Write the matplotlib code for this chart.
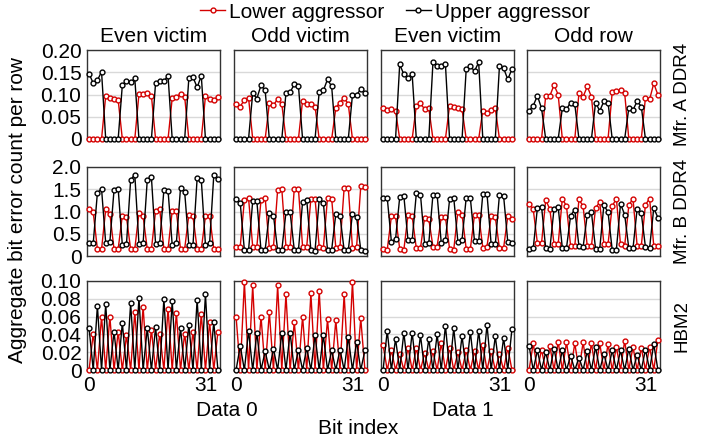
import numpy as np
import matplotlib
matplotlib.use("Agg")
import matplotlib.pyplot as plt
from matplotlib.lines import Line2D

plt.rcParams["font.family"] = ["Liberation Sans", "DejaVu Sans"]
plt.rcParams["font.size"] = 15

bit_index = np.arange(32)

# Mfr. A DDR4
a_d0_even_lower = [0, 0, 0, 0, 0.097, 0.093, 0.091, 0.088, 0, 0, 0, 0, 0.101, 0.101, 0.104, 0.097,
                   0, 0, 0, 0, 0.092, 0.095, 0.101, 0.095, 0, 0, 0, 0, 0.096, 0.091, 0.087, 0.095]
a_d0_even_upper = [0.147, 0.125, 0.132, 0.151, 0, 0, 0, 0, 0.121, 0.130, 0.127, 0.136, 0, 0, 0, 0,
                   0.126, 0.130, 0.130, 0.142, 0, 0, 0, 0, 0.136, 0.139, 0.116, 0.142, 0, 0, 0, 0]
a_d0_odd_lower = [0.078, 0.073, 0.088, 0.093, 0, 0, 0, 0, 0.080, 0.076, 0.090, 0.079, 0, 0, 0, 0,
                  0.086, 0.079, 0.079, 0.073, 0, 0, 0, 0, 0.070, 0.082, 0.093, 0.078, 0, 0, 0, 0]
a_d0_odd_upper = [0, 0, 0, 0, 0.103, 0.091, 0.121, 0.109, 0, 0, 0, 0, 0.103, 0.105, 0.123, 0.120,
                  0, 0, 0, 0, 0.106, 0.109, 0.134, 0.118, 0, 0, 0, 0, 0.099, 0.099, 0.112, 0.103]
a_d1_even_lower = [0.069, 0.065, 0.067, 0.063, 0, 0, 0, 0, 0.075, 0.080, 0.067, 0.070, 0, 0, 0, 0,
                   0.075, 0.073, 0.070, 0.067, 0, 0, 0, 0, 0.064, 0.059, 0.065, 0.069, 0, 0, 0, 0]
a_d1_even_upper = [0, 0, 0, 0, 0.168, 0.145, 0.138, 0.145, 0, 0, 0, 0, 0.172, 0.165, 0.163, 0.168,
                   0, 0, 0, 0, 0.157, 0.163, 0.153, 0.172, 0, 0, 0, 0, 0.164, 0.159, 0.134, 0.157]
a_d1_odd_lower = [0, 0, 0, 0, 0.097, 0.097, 0.121, 0.100, 0, 0, 0, 0, 0.103, 0.095, 0.118, 0.095,
                  0, 0, 0, 0, 0.105, 0.108, 0.109, 0.103, 0, 0, 0, 0, 0.093, 0.089, 0.125, 0.099]
a_d1_odd_upper = [0.063, 0.075, 0.097, 0.069, 0, 0, 0, 0, 0.069, 0.067, 0.082, 0.078, 0, 0, 0, 0,
                  0.082, 0.063, 0.085, 0.082, 0, 0, 0, 0, 0.070, 0.065, 0.085, 0.073, 0, 0, 0, 0]

# Mfr. B DDR4
b_d0_even_lower = [1.05, 0.98, 0.16, 0.15, 1.05, 0.95, 0.16, 0.16, 0.91, 0.87, 0.15, 0.16, 0.97, 0.89, 0.16, 0.15,
                   1.01, 1.05, 0.16, 0.16, 1.01, 1.01, 0.15, 0.16, 0.93, 0.89, 0.16, 0.15, 0.89, 0.91, 0.16, 0.16]
b_d0_even_upper = [0.29, 0.29, 1.42, 1.51, 0.29, 0.31, 1.48, 1.51, 0.25, 0.27, 1.71, 1.83, 0.27, 0.29, 1.71, 1.77,
                   0.27, 0.29, 1.49, 1.47, 0.25, 0.29, 1.53, 1.44, 0.25, 0.25, 1.75, 1.71, 0.25, 0.29, 1.81, 1.72]
b_d0_odd_lower = [0.21, 0.21, 1.26, 1.30, 0.21, 0.21, 1.26, 1.31, 0.18, 0.21, 1.49, 1.51, 0.21, 0.21, 1.51, 1.51,
                  0.21, 0.21, 1.29, 1.29, 0.21, 0.18, 1.31, 1.29, 0.18, 0.21, 1.53, 1.53, 0.18, 0.21, 1.57, 1.55]
b_d0_odd_upper = [1.29, 1.19, 0.13, 0.13, 1.23, 1.23, 0.13, 0.14, 0.96, 0.91, 0.13, 0.13, 0.98, 0.98, 0.14, 0.13,
                  1.21, 1.26, 0.13, 0.12, 1.27, 1.20, 0.13, 0.14, 0.95, 0.91, 0.13, 0.13, 0.95, 0.87, 0.14, 0.12]
b_d1_even_lower = [0.16, 0.14, 0.89, 0.89, 0.16, 0.14, 0.92, 0.89, 0.17, 0.18, 0.86, 0.83, 0.21, 0.21, 0.87, 0.87,
                   0.16, 0.14, 1.00, 0.93, 0.16, 0.16, 0.93, 0.93, 0.18, 0.21, 0.89, 0.87, 0.18, 0.18, 0.89, 0.83]
b_d1_even_upper = [1.30, 1.31, 0.32, 0.38, 1.32, 1.35, 0.35, 0.35, 1.41, 1.38, 0.27, 0.29, 1.38, 1.38, 0.29, 0.35,
                   1.27, 1.31, 0.32, 0.37, 1.31, 1.30, 0.33, 0.33, 1.40, 1.40, 0.27, 0.26, 1.38, 1.35, 0.32, 0.29]
b_d1_odd_lower = [1.17, 1.05, 0.29, 0.29, 1.26, 1.05, 0.27, 0.27, 1.29, 1.12, 0.22, 0.23, 1.27, 1.12, 0.22, 0.22,
                  1.08, 1.21, 0.27, 0.27, 1.12, 1.29, 0.26, 0.23, 1.14, 1.29, 0.23, 0.23, 1.15, 1.29, 0.23, 0.22]
b_d1_odd_upper = [0.16, 0.17, 1.08, 1.11, 0.17, 0.16, 1.06, 1.10, 0.18, 0.18, 0.91, 1.04, 0.22, 0.20, 0.93, 0.98,
                  0.16, 0.16, 1.15, 0.98, 0.14, 0.14, 1.17, 0.93, 0.17, 0.17, 1.06, 0.96, 0.20, 0.18, 1.08, 0.86]

# HBM2
h_d0_even_lower = [0, 0.041, 0, 0.060, 0, 0.060, 0, 0.043, 0, 0.039, 0, 0.065, 0, 0.071, 0, 0.045,
                   0, 0.041, 0, 0.069, 0, 0.064, 0, 0.041, 0, 0.043, 0, 0.063, 0, 0.054, 0, 0.043]
h_d0_even_upper = [0.047, 0, 0.072, 0, 0.074, 0, 0.043, 0, 0.053, 0, 0.075, 0, 0.081, 0, 0.047, 0,
                   0.048, 0, 0.080, 0, 0.077, 0, 0.047, 0, 0.051, 0, 0.079, 0, 0.085, 0, 0.054, 0]
h_d0_odd_lower = [0.060, 0, 0.099, 0, 0.095, 0, 0.060, 0, 0.065, 0, 0.095, 0, 0.085, 0, 0.054, 0,
                  0.060, 0, 0.086, 0, 0.089, 0, 0.057, 0, 0.056, 0, 0.085, 0, 0.099, 0, 0.058, 0]
h_d0_odd_upper = [0, 0.027, 0, 0.044, 0, 0.042, 0, 0.021, 0, 0.024, 0, 0.042, 0, 0.042, 0, 0.023,
                  0, 0.025, 0, 0.039, 0, 0.039, 0, 0.022, 0, 0.023, 0, 0.037, 0, 0.032, 0, 0.022]
h_d1_even_lower = [0.028, 0, 0.022, 0, 0.018, 0, 0.025, 0, 0.025, 0, 0.019, 0, 0.021, 0, 0.030, 0,
                   0.025, 0, 0.020, 0, 0.022, 0, 0.021, 0, 0.028, 0, 0.021, 0, 0.018, 0, 0.025, 0]
h_d1_even_upper = [0, 0.044, 0, 0.035, 0, 0.042, 0, 0.042, 0, 0.039, 0, 0.035, 0, 0.040, 0, 0.050,
                   0, 0.047, 0, 0.038, 0, 0.043, 0, 0.044, 0, 0.051, 0, 0.038, 0, 0.036, 0, 0.046]
h_d1_odd_lower = [0, 0.030, 0, 0.023, 0, 0.027, 0, 0.032, 0, 0.031, 0, 0.030, 0, 0.031, 0, 0.030,
                  0, 0.030, 0, 0.029, 0, 0.026, 0, 0.033, 0, 0.026, 0, 0.025, 0, 0.026, 0, 0.034]
h_d1_odd_upper = [0.027, 0, 0.022, 0, 0.020, 0, 0.024, 0, 0.022, 0, 0.016, 0, 0.014, 0, 0.021, 0,
                  0.026, 0, 0.018, 0, 0.022, 0, 0.022, 0, 0.024, 0, 0.017, 0, 0.023, 0, 0.029, 0]

col_titles = ["Even victim", "Odd victim", "Even victim", "Odd row"]
row_labels = ["Mfr. A DDR4", "Mfr. B DDR4", "HBM2"]
y_ticks = [[0, 0.05, 0.10, 0.15, 0.20], [0, 0.5, 1.0, 1.5, 2.0], [0, 0.02, 0.04, 0.06, 0.08, 0.10]]
y_ticklabels = [["0", "0.05", "0.10", "0.15", "0.20"], ["0", "0.5", "1.0", "1.5", "2.0"],
                ["0", "0.02", "0.04", "0.06", "0.08", "0.10"]]

panels = [
    [(a_d0_even_lower, a_d0_even_upper), (a_d0_odd_lower, a_d0_odd_upper),
     (a_d1_even_lower, a_d1_even_upper), (a_d1_odd_lower, a_d1_odd_upper)],
    [(b_d0_even_lower, b_d0_even_upper), (b_d0_odd_lower, b_d0_odd_upper),
     (b_d1_even_lower, b_d1_even_upper), (b_d1_odd_lower, b_d1_odd_upper)],
    [(h_d0_even_lower, h_d0_even_upper), (h_d0_odd_lower, h_d0_odd_upper),
     (h_d1_even_lower, h_d1_even_upper), (h_d1_odd_lower, h_d1_odd_upper)],
]

red = "#d40000"
W, H = 710, 441
fig = plt.figure(figsize=(7.1, 4.41), dpi=100)

col_left = [87, 234, 381, 527]
row_top = [50, 167, 281]
ax_w, ax_h = 133, 89

for r in range(3):
    for c in range(4):
        ax = fig.add_axes([col_left[c] / W, 1 - (row_top[r] + ax_h) / H, ax_w / W, ax_h / H])
        lower, upper = panels[r][c]
        ax.plot(bit_index, lower, color=red, lw=1, marker="o", ms=3.5, mfc="white",
                mec=red, mew=1, clip_on=False, zorder=3)
        ax.plot(bit_index, upper, color="black", lw=1, marker="o", ms=3.5, mfc="white",
                mec="black", mew=1, clip_on=False, zorder=3)
        ax.set_xlim(-0.5, 31.5)
        ax.set_ylim(y_ticks[r][0], y_ticks[r][-1])
        ax.set_yticks(y_ticks[r])
        ax.yaxis.grid(True, color="#d9d9d9", lw=1)
        ax.set_axisbelow(True)
        for s in ax.spines.values():
            s.set_color("#333333")
            s.set_linewidth(1)
        ax.tick_params(length=0, pad=4)
        if c == 0:
            ax.set_yticklabels(y_ticklabels[r])
        else:
            ax.set_yticklabels([])
        if r == 2:
            ax.set_xticks([0, 31])
            labels = ax.set_xticklabels(["0", "31"])
            labels[1].set_ha("right")
        else:
            ax.set_xticks([])
        if r == 0:
            ax.set_title(col_titles[c], fontsize=15, pad=6)
        if c == 3:
            ax.yaxis.set_label_position("right")
            ax.set_ylabel(row_labels[r], fontsize=13.5, labelpad=10)

fig.text(18 / W, 1 - 210 / H, "Aggregate bit error count per row", rotation=90,
         ha="center", va="center", fontsize=15)
fig.text(227 / W, 1 - 410 / H, "Data 0", ha="center", va="center", fontsize=15)
fig.text(463 / W, 1 - 410 / H, "Data 1", ha="center", va="center", fontsize=15)
fig.text(358 / W, 1 - 428 / H, "Bit index", ha="center", va="center", fontsize=15)

handles = [Line2D([], [], color=red, lw=1, marker="o", ms=3.5, mfc="white", mec=red),
           Line2D([], [], color="black", lw=1, marker="o", ms=3.5, mfc="white", mec="black")]
fig.legend(handles, ["Lower aggressor", "Upper aggressor"], loc="center",
           bbox_to_anchor=(395 / W, 1 - 12 / H), ncol=2, frameon=False, fontsize=15,
           handlelength=1.2, handletextpad=0.2, columnspacing=1.0, borderpad=0)

fig.savefig("out.png", dpi=100)
